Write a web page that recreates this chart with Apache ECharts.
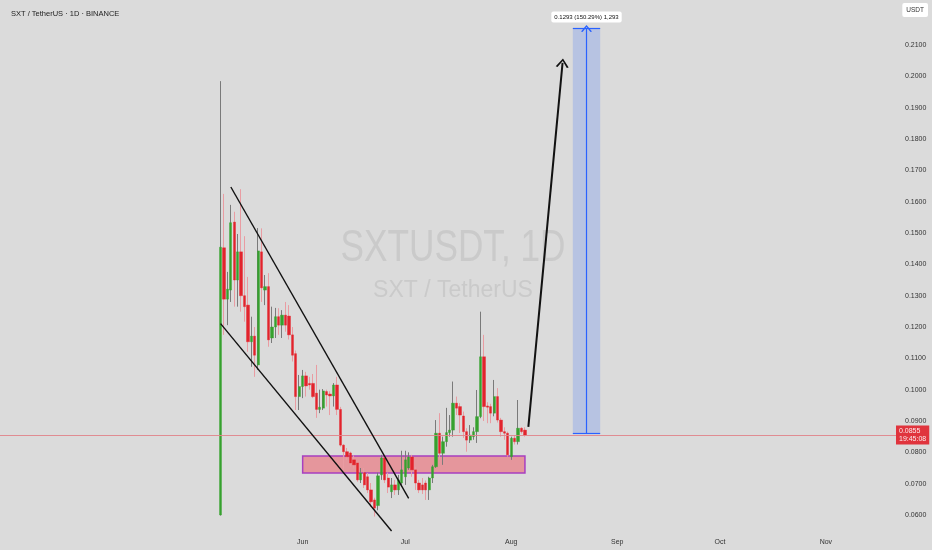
<!DOCTYPE html>
<html><head><meta charset="utf-8">
<script src="https://cdn.jsdelivr.net/npm/echarts@6/dist/echarts.min.js"></script>
<style>html,body{margin:0;padding:0;background:#dbdbdb}#c{width:932px;height:550px}</style>
</head><body><div id="c"></div>
<script>
// ---- data ----
const axisStart = '2025-03-05';
const axisDays = 262;
const candleStart = '2025-05-08';
const opens  = [0.0600,0.1453,0.1289,0.1318,0.1535,0.1350,0.1440,0.1300,0.1270,0.1153,
                0.1171,0.1079,0.1440,0.1318,0.1329,0.1165,0.1200,0.1233,0.1206,0.1238,
                0.1235,0.1175,0.1115,0.0978,0.1010,0.1044,0.1020,0.1020,0.0989,0.0937,
                0.0941,0.0994,0.0986,0.0980,0.1015,0.0937,0.0823,0.0802,0.0798,0.0776,
                0.0766,0.0712,0.0735,0.0722,0.0680,0.0648,0.0630,0.0728,0.0782,0.0718,
                0.0674,0.0696,0.0680,0.0702,0.0722,0.0750,0.0785,0.0744,0.0702,0.0696,
                0.0702,0.0680,0.0718,0.0754,0.0861,0.0797,0.0834,0.0863,0.0871,0.0957,
                0.0946,0.0916,0.0866,0.0839,0.0850,0.0866,0.0914,0.1105,0.0948,0.0946,
                0.0925,0.0978,0.0903,0.0866,0.0861,0.0786,0.0845,0.0834,0.0877,0.0871];
const closes = [0.1455,0.1289,0.1321,0.1533,0.1350,0.1440,0.1300,0.1265,0.1153,0.1171,
                0.1110,0.1443,0.1325,0.1329,0.1159,0.1200,0.1233,0.1206,0.1238,0.1206,
                0.1175,0.1110,0.0978,0.1010,0.1044,0.1012,0.1015,0.0978,0.0937,0.0944,
                0.0996,0.0983,0.0980,0.1015,0.0937,0.0823,0.0802,0.0786,0.0766,0.0760,
                0.0712,0.0734,0.0696,0.0680,0.0642,0.0622,0.0725,0.0782,0.0712,0.0689,
                0.0696,0.0680,0.0712,0.0744,0.0776,0.0785,0.0744,0.0702,0.0680,0.0680,
                0.0680,0.0718,0.0754,0.0861,0.0797,0.0834,0.0863,0.0871,0.0957,0.0941,
                0.0919,0.0866,0.0839,0.0855,0.0866,0.0914,0.1105,0.0946,0.0944,0.0925,
                0.0978,0.0903,0.0866,0.0861,0.0792,0.0845,0.0834,0.0877,0.0866,0.0855];
const lows   = [0.0598,0.1175,0.1206,0.1280,0.1265,0.1265,0.1249,0.1217,0.1121,0.1073,
                0.1041,0.1063,0.1280,0.1270,0.1137,0.1149,0.1165,0.1175,0.1165,0.1185,
                0.1160,0.1090,0.0935,0.0935,0.0973,0.0978,0.1000,0.0973,0.0910,0.0925,
                0.0935,0.0946,0.0919,0.0946,0.0919,0.0818,0.0744,0.0776,0.0754,0.0748,
                0.0706,0.0702,0.0686,0.0670,0.0626,0.0595,0.0615,0.0712,0.0702,0.0670,
                0.0654,0.0664,0.0664,0.0690,0.0696,0.0744,0.0722,0.0680,0.0670,0.0667,
                0.0648,0.0648,0.0702,0.0750,0.0776,0.0760,0.0818,0.0850,0.0850,0.0919,
                0.0862,0.0846,0.0802,0.0830,0.0840,0.0830,0.0909,0.0900,0.0893,0.0893,
                0.0915,0.0895,0.0850,0.0840,0.0786,0.0776,0.0825,0.0825,0.0860,0.0850];
const highs  = [0.1985,0.1625,0.1376,0.1590,0.1568,0.1497,0.1640,0.1490,0.1360,0.1233,
                0.1200,0.1516,0.1515,0.1366,0.1372,0.1265,0.1261,0.1260,0.1254,0.1280,
                0.1270,0.1200,0.1125,0.1047,0.1063,0.1057,0.1041,0.1050,0.1079,0.1000,
                0.1002,0.1000,0.0995,0.1021,0.1041,0.0945,0.0826,0.0814,0.0802,0.0790,
                0.0770,0.0750,0.0750,0.0734,0.0702,0.0655,0.0735,0.0792,0.0792,0.0735,
                0.0718,0.0712,0.0728,0.0805,0.0805,0.0800,0.0792,0.0754,0.0712,0.0718,
                0.0710,0.0722,0.0760,0.0903,0.0925,0.0850,0.0942,0.0919,0.1026,0.0978,
                0.0957,0.0930,0.0877,0.0887,0.0880,0.0999,0.1249,0.1175,0.0960,0.0955,
                0.1031,0.1005,0.0910,0.0880,0.0866,0.0850,0.0855,0.0967,0.0880,0.0880];
const priceTicks = [0.06,0.07,0.08,0.09,0.10,0.11,0.12,0.13,0.14,0.15,0.16,0.17,0.18,0.19,0.20,0.21];
const monthNames = ['Jan','Feb','Mar','Apr','May','Jun','Jul','Aug','Sep','Oct','Nov','Dec'];
const firstLabelMonth = 5; // Jun
const lastPrice = 0.0855;
const lastPriceTime = '19:45:08';
const zone = {start:'2025-06-01', end:'2025-08-05', low:0.0734, high:0.0788};
const upperChannel = [['2025-05-11', 0.1647], ['2025-07-02', 0.0653]];
const lowerChannel = [['2025-05-08', 0.1211], ['2025-06-27', 0.0549]];
const projection = [['2025-08-06', 0.0881], ['2025-08-16', 0.2043]];
const target = {start:'2025-08-19', mid:'2025-08-23', end:'2025-08-27', low:0.086034, high:0.215334};

// ---- build ----
function addDays(s, n){ const d = new Date(s+'T00:00:00Z'); d.setUTCDate(d.getUTCDate()+n); return d.toISOString().slice(0,10); }
const dates = []; for (let i=0;i<axisDays;i++) dates.push(addDays(axisStart,i));
const wickData = opens.map((o,i)=>[addDays(candleStart,i), o, closes[i], lows[i], highs[i]]);
const bodyData = opens.map((o,i)=>[addDays(candleStart,i), o, closes[i], Math.min(o,closes[i]), Math.max(o,closes[i])]);

const chevron = 'path://M0,10 L5,0 L10,10 L8.6,10.6 L5,3 L1.4,10.6 Z';
const FONT = "'Liberation Sans',Arial,sans-serif";
const diff = target.high - target.low;
const targetLabel = diff.toFixed(4)+' ('+(diff/target.low*100).toFixed(2)+'%) '+Math.round(diff*10000).toLocaleString('en-US');

const chart = echarts.init(document.getElementById('c'), null, {renderer:'canvas'});
chart.setOption({
  backgroundColor:'#dbdbdb',
  animation:false,
  textStyle:{fontFamily:FONT},
  title:[
    {text:'SXT / TetherUS · 1D · BINANCE', left:6, top:5, textStyle:{fontSize:7.5, fontWeight:'normal', color:'#222', fontFamily:FONT}},
    {text:'USDT', right:4, top:3, backgroundColor:'#ffffff', borderRadius:2, padding:[4,4,3,4], textStyle:{fontSize:6.5, fontWeight:'normal', color:'#333', fontFamily:FONT}}
  ],
  graphic:[
    {type:'text', x:453, y:249, scaleX:0.8, z:0, style:{text:'SXTUSDT, 1D', font:"44px "+FONT, fill:'#cacaca', textAlign:'center', textVerticalAlign:'middle'}},
    {type:'text', x:453, y:291, z:0, style:{text:'SXT / TetherUS', font:"23px "+FONT, fill:'#cacaca', textAlign:'center', textVerticalAlign:'middle'}}
  ],
  grid:{left:0, right:36, top:0, bottom:3.7},
  xAxis:{
    type:'category', data:dates, boundaryGap:true,
    axisLine:{show:false}, axisTick:{show:false}, splitLine:{show:false},
    axisLabel:{
      inside:true, margin:1, fontSize:7, color:'#333', fontFamily:FONT,
      interval:(idx,val)=>{ const d=new Date(val+'T00:00:00Z'); return d.getUTCDate()===1 && d.getUTCMonth()>=firstLabelMonth; },
      formatter:(val)=>monthNames[new Date(val+'T00:00:00Z').getUTCMonth()]
    }
  },
  yAxis:{
    type:'value', position:'right', min:0.05, max:0.2244, interval:0.005, scale:true,
    axisLine:{show:false}, axisTick:{show:false}, splitLine:{show:false},
    axisLabel:{
      margin:9, fontSize:7, color:'#333', fontFamily:FONT, showMinLabel:true, showMaxLabel:true,
      formatter:(v)=>{ const k=Math.round(v*1000); return priceTicks.some(t=>Math.round(t*1000)===k) ? v.toFixed(4) : ''; }
    }
  },
  series:[
    {type:'candlestick', name:'wick', data:wickData, encode:{x:0, y:[1,2,3,4]}, barWidth:1, z:3,
     itemStyle:{color:'#7a7a7a', color0:'#e99ca2', borderColor:'#7a7a7a', borderColor0:'#e99ca2', borderWidth:1}},
    {type:'candlestick', name:'body', data:bodyData, encode:{x:0, y:[1,2,3,4]}, barWidth:2.8, z:4,
     itemStyle:{color:'#36a12e', color0:'#e2232c', borderColor:'#36a12e', borderColor0:'#e2232c', borderWidth:0.4}},
    {type:'line', name:'zone', data:[], z:5, color:'#e0838a',
     markArea:{silent:true, animation:false,
       itemStyle:{color:'rgba(242,54,69,0.42)', borderColor:'#a83fc0', borderWidth:1.5},
       data:[[{xAxis:zone.start, yAxis:zone.high},{xAxis:zone.end, yAxis:zone.low}]]},
     markLine:{silent:true, symbol:'none', animation:false, precision:4,
       lineStyle:{color:'#e0838a', width:1, type:'solid', opacity:0.9},
       label:{show:true, position:'end', distance:0, formatter:lastPrice.toFixed(4)+'\n'+lastPriceTime,
           backgroundColor:'#e0212b', color:'#ffffff', fontSize:7, lineHeight:8.5, padding:[1,3,1,3], fontFamily:FONT},
       data:[{yAxis:lastPrice}]}
    },
    {type:'line', name:'target', data:[], z:5,
     markArea:{silent:true, animation:false,
       itemStyle:{color:'rgba(41,98,255,0.2)'},
       label:{show:true, position:'top', distance:6, formatter:targetLabel, backgroundColor:'#ffffff', color:'#111',
         fontSize:6, padding:[3,3,2,3], borderRadius:2, fontFamily:FONT},
       data:[[{xAxis:target.start, yAxis:target.high},{xAxis:target.end, yAxis:target.low}]]},
     markLine:{silent:true, animation:false, precision:6, symbolSize:[11,7], lineStyle:{color:'#2962ff', width:1.2, type:'solid'}, label:{show:false},
       data:[
         [{coord:[target.start,target.low], symbol:'none'},{coord:[target.end,target.low], symbol:'none'}],
         [{coord:[target.start,target.high], symbol:'none'},{coord:[target.end,target.high], symbol:'none'}],
         [{coord:[target.mid,target.low], symbol:'none'},{coord:[target.mid,target.high], symbol:chevron}]
       ]}
    },
    {type:'line', name:'drawings', data:[], z:6,
     markLine:{silent:true, animation:false, precision:6, symbol:'none', label:{show:false}, lineStyle:{color:'#111', width:1.4, type:'solid'},
       data:[
         [{coord:upperChannel[0]},{coord:upperChannel[1]}],
         [{coord:lowerChannel[0]},{coord:lowerChannel[1]}],
         [{coord:projection[0], symbol:'none', lineStyle:{width:2}},{coord:projection[1], symbol:chevron, symbolSize:[13,9], lineStyle:{width:2}}]
       ]}
    }
  ]
});
</script></body></html>
